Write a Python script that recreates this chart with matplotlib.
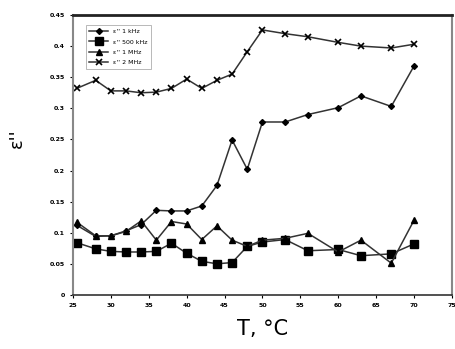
import numpy as np
from matplotlib import pyplot as plt

# temperatures (deg C)
T = [25.5, 28, 30, 32, 34, 36, 38, 40, 42, 44, 46, 48, 50, 53, 56, 60, 63, 67, 70]

eps_1k = [0.112, 0.094, 0.095, 0.103, 0.113, 0.136, 0.135, 0.135, 0.143, 0.176,
          0.249, 0.202, 0.278, 0.278, 0.290, 0.301, 0.320, 0.303, 0.368]
eps_500k = [0.084, 0.074, 0.070, 0.069, 0.069, 0.070, 0.083, 0.067, 0.054, 0.050,
            0.052, 0.078, 0.085, 0.089, 0.071, 0.073, 0.063, 0.066, 0.082]
eps_1M = [0.117, 0.095, 0.095, 0.102, 0.119, 0.088, 0.118, 0.114, 0.089, 0.111,
          0.088, 0.078, 0.088, 0.091, 0.099, 0.069, 0.088, 0.051, 0.120]
eps_2M = [0.332, 0.345, 0.328, 0.328, 0.325, 0.326, 0.332, 0.347, 0.332, 0.345,
          0.355, 0.391, 0.426, 0.420, 0.415, 0.406, 0.400, 0.397, 0.403]

labels = ["\u03b5'' 1 kHz", "\u03b5'' 500 kHz", "\u03b5'' 1 MHz", "\u03b5'' 2 MHz"]
xticks = np.arange(25, 76, 5)
yticks = [0, 0.05, 0.1, 0.15, 0.2, 0.25, 0.3, 0.35, 0.4, 0.45]
ytick_labels = ["0", "0.05", "0.1", "0.15", "0.2", "0.25", "0.3", "0.35", "0.4", "0.45"]

fig = plt.figure(figsize=(4.56, 3.49), dpi=100)
ax = fig.add_axes([0.160, 0.155, 0.831, 0.802])

lc = "#333333"
ax.plot(T, eps_1k, "-D", color=lc, lw=1.1, ms=3, mfc="black", mec="black", label=labels[0])
ax.plot(T, eps_500k, "-s", color=lc, lw=1.1, ms=5.5, mfc="black", mec="black", label=labels[1])
ax.plot(T, eps_1M, "-^", color=lc, lw=1.1, ms=4.5, mfc="black", mec="black", label=labels[2])
ax.plot(T, eps_2M, "-x", color=lc, lw=1.1, ms=4, mew=1.2, mec="black", label=labels[3])

ax.set_xlim(25, 75)
ax.set_ylim(0, 0.45)
ax.set_xticks(xticks)
ax.set_yticks(yticks)
ax.set_yticklabels(ytick_labels)
ax.tick_params(labelsize=4.5, length=2, width=0.8, pad=4)
for lab in ax.get_xticklabels() + ax.get_yticklabels():
    lab.set_fontweight("bold")

ax.spines["top"].set_linewidth(2.0)
ax.spines["top"].set_color("#222222")
ax.spines["bottom"].set_linewidth(1.2)
ax.spines["bottom"].set_color("#333333")
ax.spines["left"].set_linewidth(1.5)
ax.spines["left"].set_color("#888888")
ax.spines["right"].set_linewidth(1.5)
ax.spines["right"].set_color("#888888")

ax.set_xlabel("T, \u00b0C", fontsize=15, labelpad=8)
ax.set_ylabel("\u03b5''", fontsize=13, rotation=90)
ax.yaxis.set_label_coords(-0.125, 0.56)

leg = ax.legend(loc="upper left", fontsize=4.5, frameon=True, fancybox=False,
                edgecolor="#999999", borderpad=0.6, handlelength=3.0,
                labelspacing=0.8, bbox_to_anchor=(0.025, 0.975))
leg.get_frame().set_linewidth(0.6)

plt.savefig("out.png", dpi=100)
